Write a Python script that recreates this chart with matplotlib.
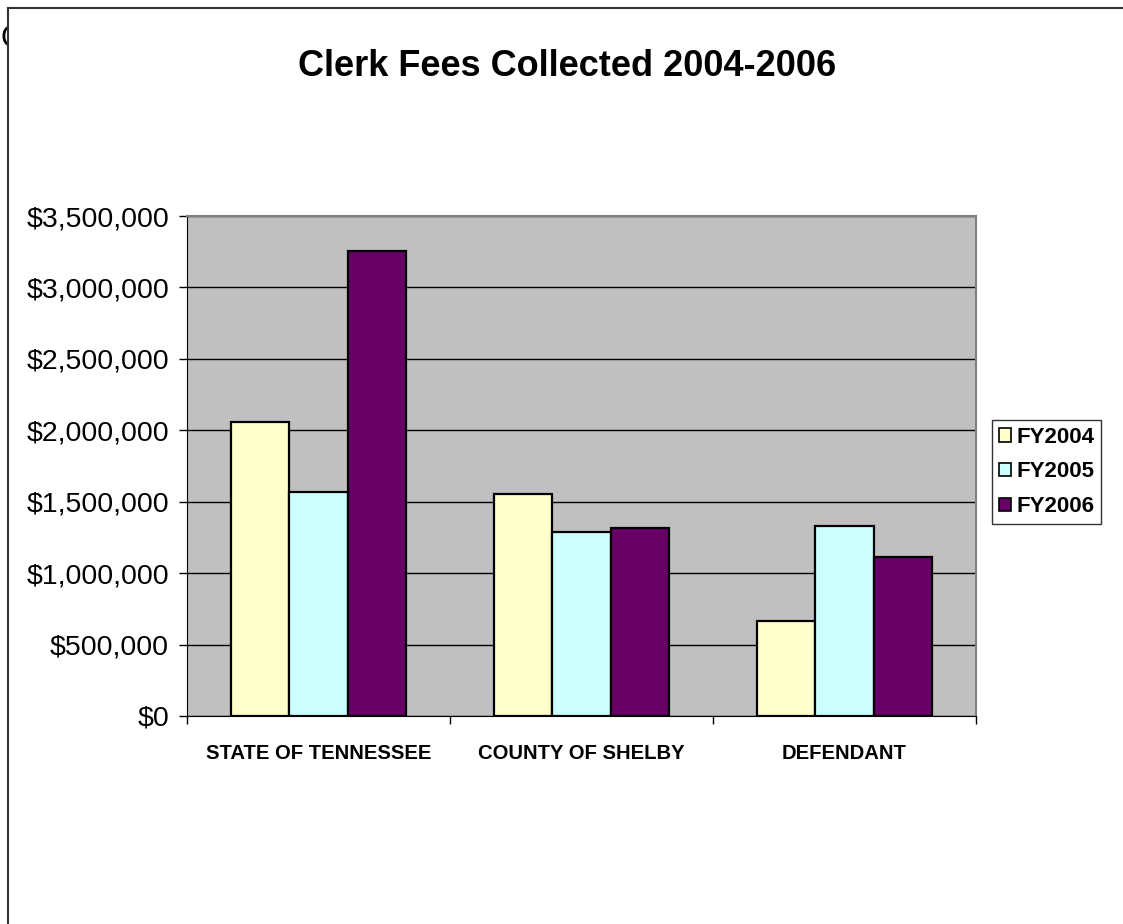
import matplotlib.pyplot as plt
import matplotlib.patches as patches
from matplotlib.lines import Line2D
from matplotlib.ticker import FuncFormatter, MultipleLocator
import numpy as np

categories = ['STATE OF TENNESSEE', 'COUNTY OF SHELBY', 'DEFENDANT']
series_names = ['FY2004', 'FY2005', 'FY2006']
fy2004 = [2055000, 1555000, 665000]
fy2005 = [1570000, 1290000, 1330000]
fy2006 = [3255000, 1315000, 1115000]
colors = ['#FFFFCC', '#CCFFFF', '#660066']

plt.rcParams['font.family'] = ['Liberation Sans', 'DejaVu Sans']

W, H = 1123, 924
fig = plt.figure(figsize=(W / 100, H / 100), dpi=100)

# axes placed in pixel terms of the original picture
ax = fig.add_axes([187 / W, 1 - 716 / H, (976 - 187) / W, (716 - 216) / H])
ax.set_zorder(5)
ax.set_facecolor('#C0C0C0')

x = np.arange(len(categories))
bw = 1 / 4.5
for i, (name, vals) in enumerate(zip(series_names, [fy2004, fy2005, fy2006])):
    ax.bar(x + (i - 1) * bw, vals, width=bw, color=colors[i], edgecolor='black',
           linewidth=1.6, label=name, zorder=3)

ax.set_xlim(-0.5, 2.5)
ax.set_ylim(0, 3500000)
ax.yaxis.set_major_locator(MultipleLocator(500000))
ax.yaxis.set_major_formatter(FuncFormatter(lambda v, p: '${:,.0f}'.format(v)))
ax.grid(axis='y', color='black', linewidth=1, zorder=1)
ax.set_axisbelow(True)

ax.set_xticks(x)
ax.set_xticklabels(categories, fontsize=14.6, fontweight='bold')
ax.set_xticks([-0.5, 0.5, 1.5, 2.5], minor=True)
ax.tick_params(axis='x', which='major', length=0, pad=20)
ax.tick_params(axis='x', which='minor', length=6, width=1, direction='out')
ax.tick_params(axis='y', labelsize=20.5, length=6, width=1, pad=7)

for s in ['top', 'right']:
    ax.spines[s].set_color('#808080')
    ax.spines[s].set_linewidth(1.5)
ax.spines['left'].set_color('black')
ax.spines['bottom'].set_color('black')

leg = ax.legend(loc='upper left', bbox_to_anchor=(992 / W, 1 - 420 / H),
                bbox_transform=fig.transFigure, frameon=True, fancybox=False,
                prop={'weight': 'bold', 'size': 16}, handlelength=0.55,
                handleheight=0.55, handletextpad=0.25, labelspacing=0.62,
                borderpad=0.3, borderaxespad=0)
leg.get_frame().set_edgecolor('black')
leg.get_frame().set_linewidth(1)
for h in leg.legend_handles:
    h.set_linewidth(1.2)

fig.text(567 / W, 1 - 67 / H, 'Clerk Fees Collected 2004-2006', ha='center',
         va='center', fontsize=26, fontweight='bold')

# clipped letter peeking out left of the chart frame
fig.text(1 / W, 1 - 39 / H, 'C', ha='left', va='center', fontsize=22, zorder=2)
fig.add_artist(patches.Rectangle((8 / W, 0), 1, (H - 8) / H, transform=fig.transFigure,
                                 facecolor='white', edgecolor='none', zorder=3))
fig.add_artist(Line2D([8 / W, 8 / W], [0, 1 - 8 / H], transform=fig.transFigure,
                      color='#333333', linewidth=1.5, zorder=4))
fig.add_artist(Line2D([8 / W, 1], [1 - 8 / H, 1 - 8 / H], transform=fig.transFigure,
                      color='#333333', linewidth=1.5, zorder=4))

fig.savefig('out.png', dpi=100)
